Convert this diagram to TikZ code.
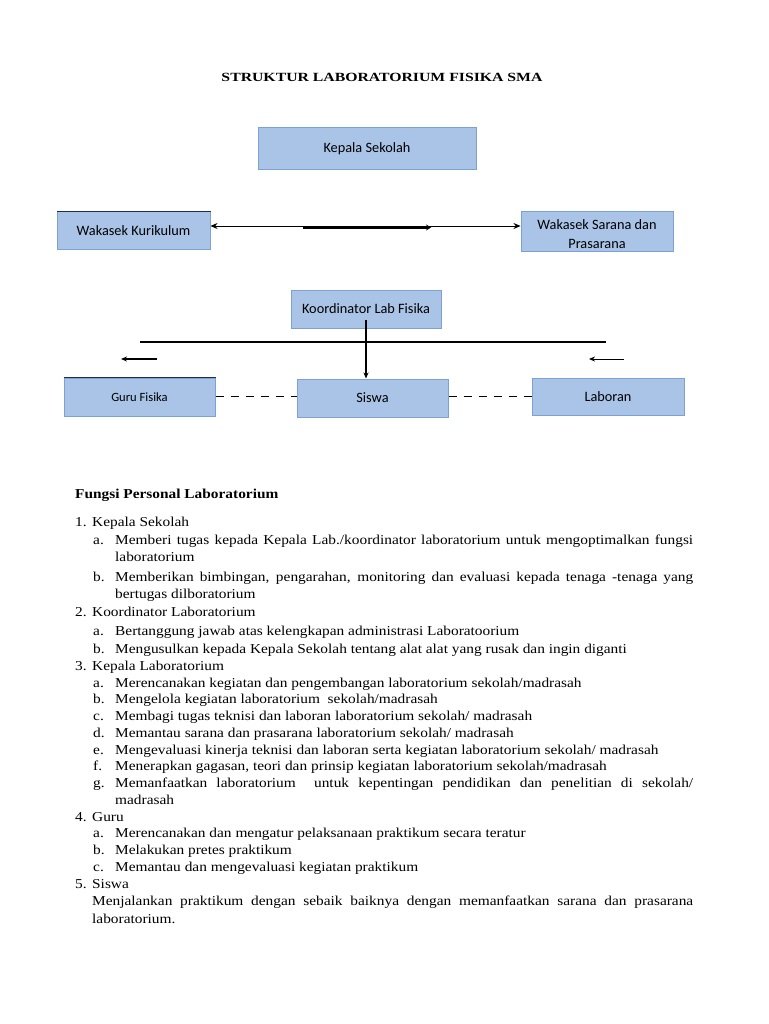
\documentclass[tikz,border=0pt]{standalone}
\usepackage{fontspec}
\setmainfont{Liberation Serif}[FakeStretch=1.13]
\newfontfamily\boxfont{Carlito}
\newfontfamily\titlefont{Liberation Serif}[FakeStretch=1.26]
\usetikzlibrary{arrows.meta}
\definecolor{boxfill}{HTML}{A9C4E7}
\definecolor{boxborder}{HTML}{7CA1D2}
\definecolor{topdark}{HTML}{1F2F4A}
\tikzset{
  orgbox/.style={draw=boxborder, fill=boxfill, line width=1pt, inner sep=0pt, align=center,
    font=\boxfont\fontsize{14.3}{17}\selectfont},
  boxtxt/.style={inner sep=0pt, font=\boxfont\fontsize{14.3}{17}\selectfont},
  txt/.style={anchor=base west, inner sep=0pt, font=\fontsize{13.6}{16}\selectfont},
  conn/.style={line width=1.1pt, -{Stealth[length=6pt,width=5pt]}},
}
\begin{document}
\begin{tikzpicture}[x=1pt,y=-1pt]
\useasboundingbox (0,0) rectangle (768,1024);
\fill[white] (0,0) rectangle (768,1024);

% title
\node[inner sep=0pt, font=\titlefont\bfseries\fontsize{12.5}{15}\selectfont] (title) at (382,77) {STRUKTUR LABORATORIUM FISIKA SMA};

% boxes
\node[orgbox, minimum width=218pt, minimum height=42pt] (ks) at (367,149) {Kepala Sekolah};
\node[orgbox, minimum width=153pt, minimum height=37pt] (wk) at (133.5,230.5) {Wakasek Kurikulum};
\draw[topdark, line width=1.2pt] (wk.north west) -- (wk.north east);
\node[orgbox, minimum width=152pt, minimum height=39pt] (ws) at (597,231.5) {};
\node[boxtxt] (wst1) at (597,225) {Wakasek Sarana dan};
\node[boxtxt] (wst2) at (597,243.5) {Prasarana};
\node[orgbox, minimum width=150pt, minimum height=38pt] (kl) at (366,309) {Koordinator Lab Fisika};
\node[orgbox, minimum width=151pt, minimum height=38pt, font=\boxfont\fontsize{12.6}{15}\selectfont] (gf) at (139.5,397) {Guru Fisika};
\draw[topdark, line width=1.2pt] (gf.north west) -- (gf.north east);
\node[orgbox, minimum width=151pt, minimum height=38pt] (sw) at (372.5,398) {Siswa};
\node[orgbox, minimum width=152pt, minimum height=37pt] (lb) at (608,396.5) {Laboran};

% connectors
\draw[line width=0.9pt, {Stealth[length=7pt,width=6pt]}-{Stealth[length=7pt,width=6pt]}] ([yshift=4.5pt]wk.east) -- ([yshift=5.5pt]ws.west);
\coordinate (ta) at (303,227.5);
\coordinate (tb) at (431,227.5);
\draw[line width=2.6pt, -{Stealth[length=5pt,width=6pt]}] (ta) -- (tb);

\coordinate (hl1) at (140,342);
\coordinate (hl2) at (606,342);
\draw[line width=1.3pt] (hl1) -- (hl2);
\draw[conn] ([yshift=-11pt]kl.center) -- (sw.north -| kl.center);

\coordinate (la1) at (157,359);
\coordinate (la2) at (121,359);
\draw[conn] (la1) -- (la2);
\coordinate (ra1) at (624,359);
\coordinate (ra2) at (589,359);
\draw[line width=0.9pt, -{Stealth[length=6pt,width=5pt]}] (ra1) -- (ra2);

\draw[line width=0.9pt, dash pattern=on 8pt off 7pt] ([yshift=1pt]gf.east) -- ([yshift=2pt]sw.west);
\draw[line width=0.9pt, dash pattern=on 8pt off 7pt] ([yshift=2pt]sw.east) -- ([yshift=0.5pt]lb.west);

% text
\node[txt, font=\bfseries\fontsize{13.6}{16}\selectfont] (h) at (75,498) {Fungsi Personal Laboratorium};
\node[txt] (n1) at (75,526) {1.};
\node[txt] (n1t) at (92,526) {Kepala Sekolah};
\node[txt] (a1) at (93,544) {a.};
\node[txt] (a1t) at (115,544) {\makebox[578pt][s]{Memberi tugas kepada Kepala Lab./koordinator laboratorium untuk mengoptimalkan fungsi}};
\node[txt] (a1u) at (115,561) {laboratorium};
\node[txt] (b1) at (93,581) {b.};
\node[txt] (b1t) at (115,581) {\makebox[578pt][s]{Memberikan bimbingan, pengarahan, monitoring dan evaluasi kepada tenaga -tenaga yang}};
\node[txt] (b1u) at (115,598) {bertugas dilboratorium};
\node[txt] (n2) at (75,616) {2.};
\node[txt] (n2t) at (92,616) {Koordinator Laboratorium};
\node[txt] (a2) at (93,635) {a.};
\node[txt] (a2t) at (115,635) {Bertanggung jawab atas kelengkapan administrasi Laboratoorium};
\node[txt] (b2) at (93,653) {b.};
\node[txt] (b2t) at (115,653) {Mengusulkan kepada Kepala Sekolah tentang alat alat yang rusak dan ingin diganti};
\node[txt] (n3) at (75,670) {3.};
\node[txt] (n3t) at (92,670) {Kepala Laboratorium};
\node[txt] (a3) at (93,687) {a.};
\node[txt] (a3t) at (115,687) {Merencanakan kegiatan dan pengembangan laboratorium sekolah/madrasah};
\node[txt] (b3) at (93,703) {b.};
\node[txt] (b3t) at (115,703) {Mengelola kegiatan laboratorium\ \ sekolah/madrasah};
\node[txt] (c3) at (93,720) {c.};
\node[txt] (c3t) at (115,720) {Membagi tugas teknisi dan laboran laboratorium sekolah/ madrasah};
\node[txt] (d3) at (93,737) {d.};
\node[txt] (d3t) at (115,737) {Memantau sarana dan prasarana laboratorium sekolah/ madrasah};
\node[txt] (e3) at (93,754) {e.};
\node[txt] (e3t) at (115,754) {Mengevaluasi kinerja teknisi dan laboran serta kegiatan laboratorium sekolah/ madrasah};
\node[txt] (f3) at (93,770) {f.};
\node[txt] (f3t) at (115,770) {Menerapkan gagasan, teori dan prinsip kegiatan laboratorium sekolah/madrasah};
\node[txt] (g3) at (93,787) {g.};
\node[txt] (g3t) at (115,787) {\makebox[578pt][s]{Memanfaatkan laboratorium\ \ untuk kepentingan pendidikan dan penelitian di sekolah/}};
\node[txt] (g3u) at (115,804) {madrasah};
\node[txt] (n4) at (75,821) {4.};
\node[txt] (n4t) at (92,821) {Guru};
\node[txt] (a4) at (93,837) {a.};
\node[txt] (a4t) at (115,837) {Merencanakan dan mengatur pelaksanaan praktikum secara teratur};
\node[txt] (b4) at (93,854) {b.};
\node[txt] (b4t) at (115,854) {Melakukan pretes praktikum};
\node[txt] (c4) at (93,871) {c.};
\node[txt] (c4t) at (115,871) {Memantau dan mengevaluasi kegiatan praktikum};
\node[txt] (n5) at (75,888) {5.};
\node[txt] (n5t) at (92,888) {Siswa};
\node[txt] (s5t) at (92,905) {\makebox[601pt][s]{Menjalankan praktikum dengan sebaik baiknya dengan memanfaatkan sarana dan prasarana}};
\node[txt] (s5u) at (92,923) {laboratorium.};
\end{tikzpicture}
\end{document}
